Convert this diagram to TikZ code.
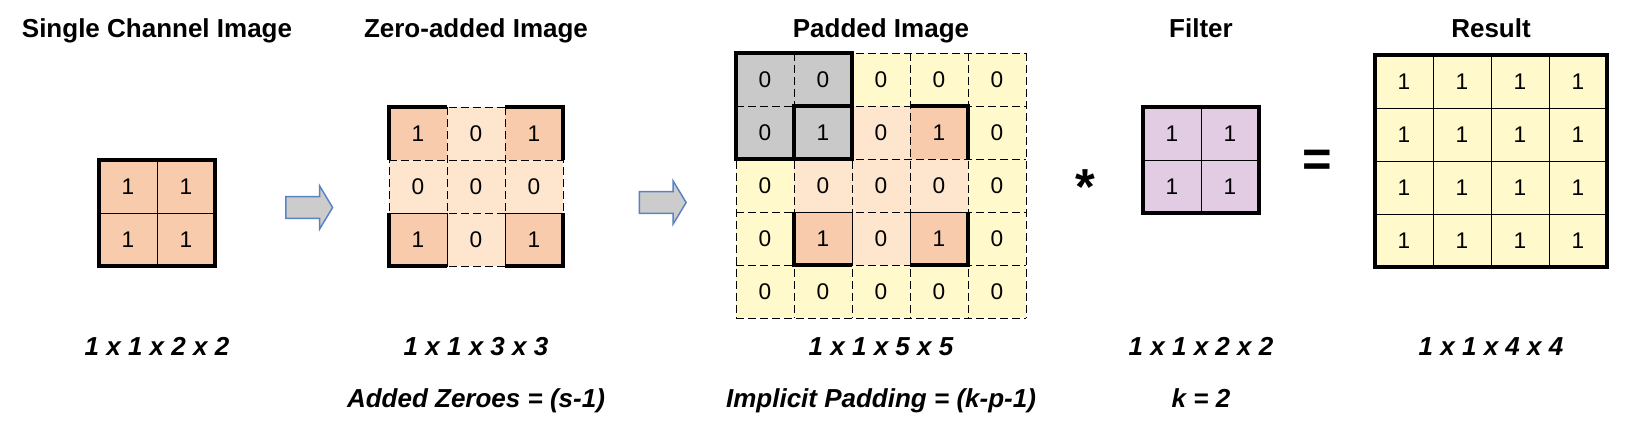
\documentclass[tikz,border=0pt]{standalone}
\usepackage{fontspec}
\setmainfont{Liberation Sans}
\usetikzlibrary{shapes.arrows}

\definecolor{cellorange}{HTML}{F8CBAD}
\definecolor{cellpeach}{HTML}{FDE5CE}
\definecolor{cellyellow}{HTML}{FFF9CC}
\definecolor{cellgray}{HTML}{C9C9C9}
\definecolor{cellpurple}{HTML}{E1CCE4}
\definecolor{arrowfill}{HTML}{CCCCCC}
\definecolor{arrowline}{HTML}{5B83C2}

\newcommand\titlefont{\fontsize{19.5}{23}\selectfont\bfseries}
\newcommand\dimfont{\fontsize{19.5}{23}\selectfont\bfseries\itshape}
\newcommand\cellfont{\fontsize{17}{20}\selectfont}
\newcommand\opfont{\fontsize{38}{42}\selectfont\bfseries}

\begin{document}
\begin{tikzpicture}[x=0.75pt, y=-0.75pt,
  every node/.style={inner sep=0pt, outer sep=0pt},
  cell/.style={minimum width=43.5pt, minimum height=39.75pt, font=\cellfont},
  solidcell/.style={cell, draw, line width=0.75pt},
  gridline/.style={line width=0.75pt, dash pattern=on 6pt off 3pt},
  thinline/.style={line width=0.75pt},
  boldline/.style={line width=3pt},
  title/.style={font=\titlefont, anchor=base},
  dims/.style={font=\dimfont, anchor=base},
  blockarrow/.style={single arrow, draw=arrowline, fill=arrowfill, line width=1.1pt,
    inner xsep=0pt, inner ysep=7.6pt, minimum height=35pt,
    single arrow head extend=8pt, single arrow tip angle=118}]
\useasboundingbox (0,0) rectangle (1633,425);

% titles
\node[title] (t-single) at (157,37) {Single Channel Image};
\node[title] (t-zero) at (476,37) {Zero-added Image};
\node[title] (t-pad) at (881,37) {Padded Image};
\node[title] (t-filter) at (1201,37) {Filter};
\node[title] (t-result) at (1491,37) {Result};

% single channel image
\foreach \r in {0,1}
  \foreach \c in {0,1}
    \node[solidcell, fill=cellorange] (s-\r-\c) at ({99+58*\c+29},{160+53*\r+26.5}) {1};
\draw[boldline] (s-0-0.north west) rectangle (s-1-1.south east);

\node[blockarrow] (arr1) at (306,207.5) {};

% zero-added image
\foreach \r in {0,1,2}
  \foreach \c in {0,1,2} {
    \pgfmathtruncatemacro\v{and(\r!=1,\c!=1)}
    \ifnum\v=1 \def\fc{cellorange}\else\def\fc{cellpeach}\fi
    \node[cell, fill=\fc] (z-\r-\c) at ({389+58*\c+29},{107+53*\r+26.5}) {\v};
  }
\foreach \i in {0,1,2} {
  \draw[gridline] (z-\i-0.north west) -- (z-\i-2.north east);
  \draw[gridline] (z-0-\i.north west) -- (z-2-\i.south west);
}
\draw[gridline] (z-2-0.south west) -- (z-2-2.south east);
\draw[gridline] (z-0-2.north east) -- (z-2-2.south east);
\draw[thinline] (z-2-0.north west) rectangle (z-2-0.south east);
\draw[thinline] (z-2-2.north west) rectangle (z-2-2.south east);
\draw[boldline] (z-0-0.south west) |- (z-0-0.north east);
\draw[boldline] (z-0-2.north west) -| (z-0-2.south east);
\draw[boldline] (z-2-0.north west) |- (z-2-0.south east);
\draw[boldline] (z-2-2.south west) -| (z-2-2.north east);

\node[blockarrow] (arr2) at (659.5,202.5) {};

% padded image
\foreach \r in {0,...,4}
  \foreach \c in {0,...,4} {
    \pgfmathtruncatemacro\v{and(mod(\r,2)==1,mod(\c,2)==1)}
    \pgfmathtruncatemacro\inner{and(and(\r>0,\r<4),and(\c>0,\c<4))}
    \ifnum\v=1 \def\fc{cellorange}\else\ifnum\inner=1 \def\fc{cellpeach}\else\def\fc{cellyellow}\fi\fi
    \ifnum\r<2 \ifnum\c<2 \def\fc{cellgray}\fi\fi
    \node[cell, fill=\fc] (p-\r-\c) at ({736+58*\c+29},{53+53*\r+26.5}) {\v};
  }
\foreach \i in {0,...,4} {
  \draw[gridline] (p-\i-0.north west) -- (p-\i-4.north east);
  \draw[gridline] (p-0-\i.north west) -- (p-4-\i.south west);
}
\draw[gridline] (p-4-0.south west) -- (p-4-4.south east);
\draw[gridline] (p-0-4.north east) -- (p-4-4.south east);
\draw[thinline] (p-3-1.north west) rectangle (p-3-1.south east);
\draw[thinline] (p-3-3.north west) rectangle (p-3-3.south east);
\draw[boldline] (p-0-0.north west) rectangle (p-1-1.south east);
\draw[boldline] (p-1-1.south west) |- (p-1-1.north east);
\draw[boldline] (p-1-3.north west) -| (p-1-3.south east);
\draw[boldline] (p-3-1.north west) |- (p-3-1.south east);
\draw[boldline] (p-3-3.south west) -| (p-3-3.north east);

\node[font=\opfont, anchor=base] (conv) at (1085,204) {*};

% filter
\foreach \r in {0,1}
  \foreach \c in {0,1}
    \node[solidcell, fill=cellpurple] (f-\r-\c) at ({1143+58*\c+29},{107+53*\r+26.5}) {1};
\draw[boldline] (f-0-0.north west) rectangle (f-1-1.south east);

\node[font=\opfont, anchor=base] (eq) at (1317.5,176) {=};

% result
\foreach \r in {0,...,3}
  \foreach \c in {0,...,3}
    \node[solidcell, fill=cellyellow] (r-\r-\c) at ({1375+58*\c+29},{55+53*\r+26.5}) {1};
\draw[boldline] (r-0-0.north west) rectangle (r-3-3.south east);

% shapes
\node[dims] (d-single) at (157,355) {1 x 1 x 2 x 2};
\node[dims] (d-zero) at (476,355) {1 x 1 x 3 x 3};
\node[dims] (d-pad) at (881,355) {1 x 1 x 5 x 5};
\node[dims] (d-filter) at (1201,355) {1 x 1 x 2 x 2};
\node[dims] (d-result) at (1491,355) {1 x 1 x 4 x 4};

\node[dims] (n-zero) at (476,407) {Added Zeroes = (s-1)};
\node[dims] (n-pad) at (881,407) {Implicit Padding = (k-p-1)};
\node[dims] (n-filter) at (1201,407) {k = 2};
\end{tikzpicture}
\end{document}
